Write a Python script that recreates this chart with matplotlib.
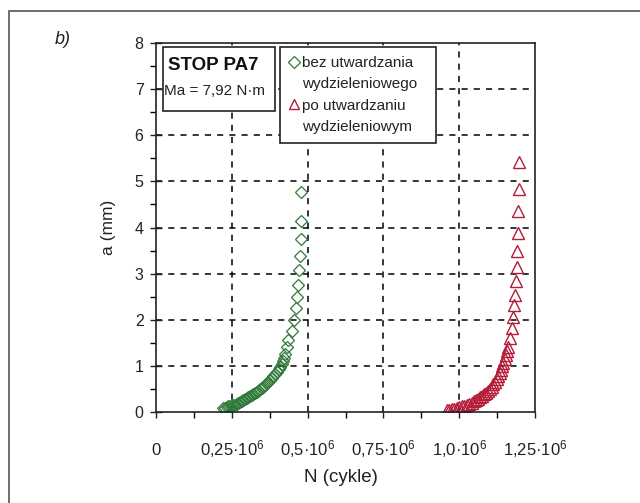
import matplotlib
matplotlib.use("Agg")
import matplotlib.pyplot as plt
from matplotlib.patches import Rectangle
from matplotlib.ticker import MultipleLocator, FixedLocator

plt.rcParams['font.family'] = ['Liberation Sans', 'DejaVu Sans']
plt.rcParams['mathtext.fontset'] = 'custom'
plt.rcParams['mathtext.rm'] = 'Liberation Sans'
plt.rcParams['mathtext.it'] = 'Liberation Sans:italic'

# Data (N in cycles, a in mm)
n_bez = [222e3, 228e3, 233e3, 238e3, 244e3, 250e3, 255e3, 260e3, 266e3, 272e3,
         277e3, 283e3, 288e3, 294e3, 299e3, 305e3, 310e3, 316e3, 321e3, 327e3,
         332e3, 338e3, 343e3, 349e3, 354e3, 360e3, 365e3, 371e3, 376e3, 382e3,
         387e3, 394e3, 400e3, 405e3, 409e3, 414e3, 418e3, 422e3, 425e3, 431e3,
         436e3, 450e3, 456e3, 462e3, 466e3, 469e3, 473e3, 475e3, 478e3, 478e3,
         478e3]
a_bez = [0.08, 0.09, 0.10, 0.12, 0.13, 0.14, 0.15, 0.16, 0.17, 0.19,
         0.21, 0.23, 0.26, 0.28, 0.30, 0.32, 0.35, 0.37, 0.39, 0.41,
         0.44, 0.46, 0.49, 0.52, 0.55, 0.58, 0.62, 0.65, 0.69, 0.73,
         0.77, 0.82, 0.87, 0.93, 0.98, 1.04, 1.11, 1.18, 1.26, 1.40,
         1.56, 1.76, 2.00, 2.25, 2.50, 2.75, 3.07, 3.38, 3.75, 4.15,
         4.77]

n_po = [959e3, 967e3, 975e3, 983e3, 992e3, 1000e3, 1008e3, 1016e3, 1025e3, 1033e3,
        1041e3, 1048e3, 1055e3, 1062e3, 1069e3, 1076e3, 1083e3, 1090e3, 1096e3, 1102e3,
        1107e3, 1113e3, 1118e3, 1124e3, 1129e3, 1134e3, 1138e3, 1142e3, 1145e3, 1150e3,
        1154e3, 1158e3, 1162e3, 1167e3, 1173e3, 1178e3, 1182e3, 1184e3, 1187e3, 1190e3,
        1191e3, 1193e3, 1195e3, 1197e3, 1197e3]
a_po = [0.04, 0.05, 0.06, 0.07, 0.08, 0.10, 0.12, 0.13, 0.15, 0.17,
        0.20, 0.23, 0.26, 0.29, 0.32, 0.35, 0.38, 0.42, 0.46, 0.50,
        0.55, 0.60, 0.66, 0.72, 0.78, 0.84, 0.91, 0.99, 1.07, 1.15,
        1.24, 1.33, 1.42, 1.60, 1.82, 2.07, 2.31, 2.54, 2.83, 3.15,
        3.48, 3.89, 4.35, 4.83, 5.41]

x_ticklabels = ['0', '0,25·10$^{6}$', '0,5·10$^{6}$', '0,75·10$^{6}$',
                '1,0·10$^{6}$', '1,25·10$^{6}$']
x_tickvals = [0, 0.25e6, 0.5e6, 0.75e6, 1.0e6, 1.25e6]

fig = plt.figure(figsize=(6.4, 5.03), dpi=100)
ax = fig.add_axes([156/640, 1-412/503, (535-156)/640, (412-43)/503])

green = '#2f7a3a'
red = '#b41c3a'

ax.plot(n_bez, a_bez, linestyle='none', marker='D', markersize=6,
        markerfacecolor='none', markeredgecolor=green, markeredgewidth=0.9,
        label='bez utwardzania\nwydzieleniowego')
ax.plot(n_po, a_po, linestyle='none', marker='^', markersize=8.5,
        markerfacecolor='none', markeredgecolor=red, markeredgewidth=1.0,
        label='po utwardzaniu\nwydzieleniowym')

ax.set_xlim(0, 1.25e6)
ax.set_ylim(0, 8)

ax.xaxis.set_major_locator(FixedLocator(x_tickvals))
ax.set_xticklabels(x_ticklabels)
ax.xaxis.set_minor_locator(MultipleLocator(0.125e6))
ax.yaxis.set_major_locator(MultipleLocator(1))
ax.yaxis.set_minor_locator(MultipleLocator(0.5))

ax.tick_params(axis='x', which='major', direction='out', length=4, width=1,
               labelsize=12, pad=27, colors='#222222')
ax.tick_params(axis='x', which='minor', direction='out', length=4, width=1)
ax.tick_params(axis='y', which='major', direction='inout', length=8, width=1,
               labelsize=11.5, pad=5, colors='#222222')
ax.tick_params(axis='y', which='minor', direction='out', length=4, width=1)
for lab in ax.get_xticklabels():
    lab.set_verticalalignment('baseline')

for s in ax.spines.values():
    s.set_color('#222222')
    s.set_linewidth(1.2)

for v in [0.25e6, 0.5e6, 0.75e6, 1.0e6]:
    ax.axvline(v, color='black', linestyle=(0, (4, 4)), linewidth=1.1, zorder=0)
for v in [1, 2, 3, 4, 5, 6, 7]:
    ax.axhline(v, color='black', linestyle=(0, (4, 4)), linewidth=1.1, zorder=0)

ax.set_xlabel('N (cykle)', fontsize=13.5, color='#222222', labelpad=6)
ax.xaxis.set_label_coords(0.488, -0.155)
ax.set_ylabel('a (mm)', fontsize=12.5, color='#222222', labelpad=13)

# Info box
ax.add_patch(Rectangle((163/640, 1-111/503), (275-163)/640, (111-47)/503,
                       transform=fig.transFigure, fill=True, facecolor='white',
                       edgecolor='#222222', linewidth=1.2, zorder=5))
fig.text(168/640, 1-65/503, 'STOP PA7', fontsize=13.5, fontweight='bold',
         va='center', ha='left', color='#111111', zorder=6)
fig.text(164/640, 1-91/503, 'Ma = 7,92 N·m', fontsize=11, va='center',
         ha='left', color='#222222', zorder=6)

leg = ax.legend(loc='upper left', bbox_to_anchor=(280/640, 1-140/503, 156/640, 93/503),
                bbox_transform=fig.transFigure, mode='expand', frameon=True,
                fancybox=False, edgecolor='#222222', fontsize=11,
                handlelength=0.65, handletextpad=0.15, borderpad=0.62,
                labelspacing=0.5, borderaxespad=0, framealpha=1)
leg.get_frame().set_linewidth(1.2)
for t in leg.get_texts():
    t.set_linespacing(1.62)
    t.set_color('#222222')
for h in leg.legend_handles:
    h.set_markersize(6.5)
try:
    for col in leg._legend_handle_box.get_children():
        for item in col.get_children():
            item.align = 'top'
except Exception:
    pass

fig.text(63/640, 1-39/503, 'b)', fontsize=13, fontstyle='italic',
         va='center', ha='center', color='#222222')

fig.patches.append(Rectangle((9/640, -0.1), 1.1, 1-11/503 + 0.1,
                             transform=fig.transFigure, fill=False,
                             edgecolor='#555555', linewidth=1.2))

fig.savefig('out.png', dpi=100)
